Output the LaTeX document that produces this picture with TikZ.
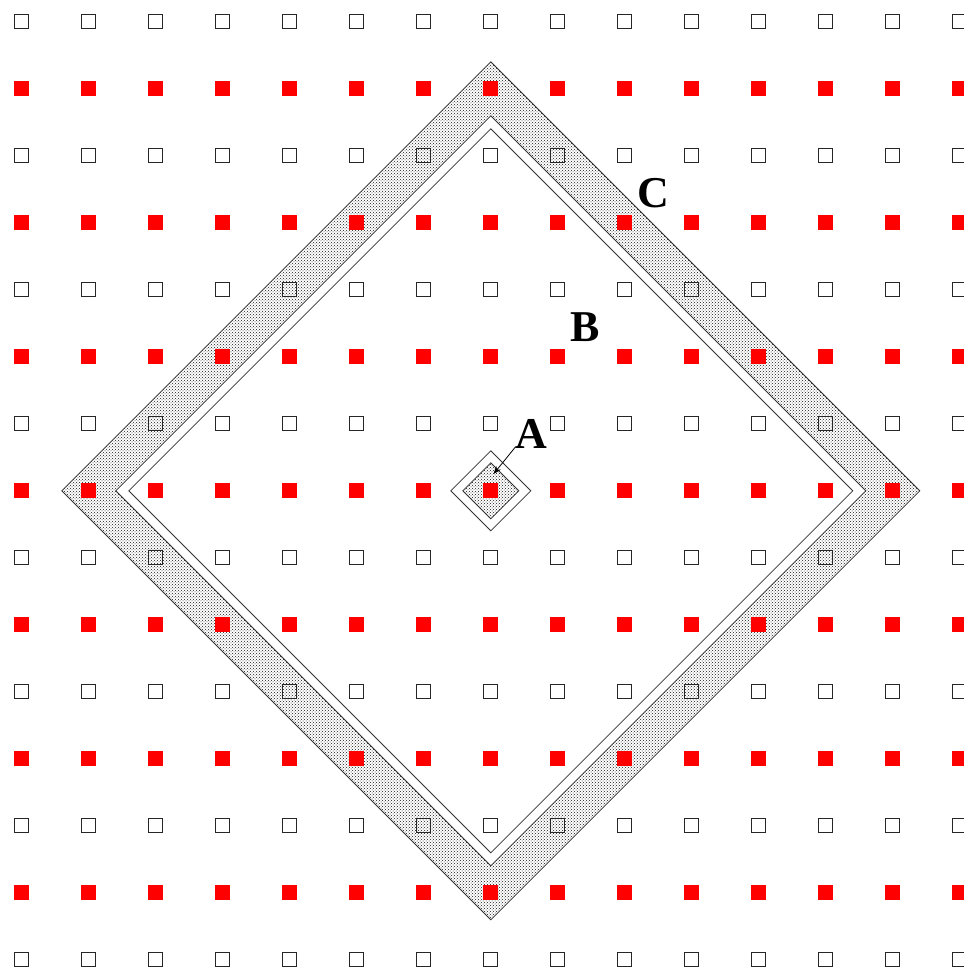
\documentclass[tikz,border=0pt]{standalone}
\usepackage{fontspec}
\setmainfont{Liberation Serif}
\usetikzlibrary{patterns,arrows.meta,calc}
\pgfdeclarepatternformonly{stagdots}{\pgfqpoint{-1pt}{-1pt}}{\pgfqpoint{4pt}{4pt}}{\pgfqpoint{3pt}{3pt}}{%
  \pgfpathcircle{\pgfqpoint{0pt}{0pt}}{0.5pt}%
  \pgfpathcircle{\pgfqpoint{1.5pt}{1.5pt}}{0.5pt}%
  \pgfusepath{fill}}
\tikzset{
  osq/.style={draw=black!85,line width=1pt,minimum size=13.5pt,inner sep=0pt,fill=none},
  rsq/.style={fill=red,draw=none,minimum size=15pt,inner sep=0pt},
  edge/.style={draw=black!80,line width=0.8pt},
  band/.style={pattern=stagdots,pattern color=black!90},
  lab/.style={inner sep=0pt,font=\fontsize{44}{44}\selectfont\bfseries}
}
\begin{document}
\begin{tikzpicture}[x=1pt,y=-1pt]
\useasboundingbox (0,0) rectangle (964,970);
\fill[white] (0,0) rectangle (964,970);
\coordinate (O) at (490.8,490.8);
% big hatched band
\fill[band,even odd rule]
  ($(O)+(0,-429)$) -- ($(O)+(429,0)$) -- ($(O)+(0,429)$) -- ($(O)+(-429,0)$) -- cycle
  ($(O)+(0,-375)$) -- ($(O)+(375,0)$) -- ($(O)+(0,375)$) -- ($(O)+(-375,0)$) -- cycle;
\draw[edge] ($(O)+(0,-429)$) -- ($(O)+(429,0)$) -- ($(O)+(0,429)$) -- ($(O)+(-429,0)$) -- cycle;
\draw[edge] ($(O)+(0,-375)$) -- ($(O)+(375,0)$) -- ($(O)+(0,375)$) -- ($(O)+(-375,0)$) -- cycle;
\draw[edge] ($(O)+(0,-362)$) -- ($(O)+(362,0)$) -- ($(O)+(0,362)$) -- ($(O)+(-362,0)$) -- cycle;
% small diamonds
\fill[band] ($(O)+(0,-28)$) -- ($(O)+(28,0)$) -- ($(O)+(0,28)$) -- ($(O)+(-28,0)$) -- cycle;
\draw[edge] ($(O)+(0,-28)$) -- ($(O)+(28,0)$) -- ($(O)+(0,28)$) -- ($(O)+(-28,0)$) -- cycle;
\draw[edge] ($(O)+(0,-40)$) -- ($(O)+(40,0)$) -- ($(O)+(0,40)$) -- ($(O)+(-40,0)$) -- cycle;
% grid
\foreach \i in {0,...,14}{
  \foreach \j in {0,...,14}{
    \pgfmathtruncatemacro{\odd}{mod(\j,2)}
    \ifnum\odd=1
      \node[rsq] (g-\i-\j) at ({21.3+67*\i},{21.3+67*\j}) {};
    \else
      \node[osq] (g-\i-\j) at ({21.3+67*\i},{21.3+67*\j}) {};
    \fi
  }
}
% labels
\node[lab] (A) at (531.7,434) {A};
\node[lab] (B) at (585.5,327) {B};
\node[lab] (C) at (653,193) {C};
\coordinate (Atip) at (493.5,474);
\draw[black,line width=0.8pt,-{Stealth[length=8pt,width=6pt]}] ($(A.south west)+(0,-2)$) -- (Atip);
\end{tikzpicture}
\end{document}
